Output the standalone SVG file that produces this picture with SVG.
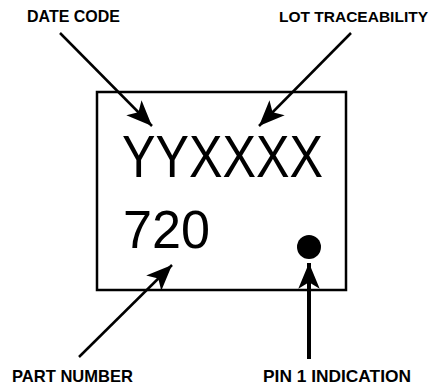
<svg xmlns="http://www.w3.org/2000/svg" width="433" height="388" viewBox="0 0 433 388">
<style>
.lbl{font-family:"Liberation Sans",Arial,sans-serif;font-weight:bold;font-size:17px;fill:#000}
.big{font-family:"Liberation Sans",Arial,sans-serif;font-size:60px;fill:#000}
.ln{stroke:#000;fill:none}
</style>
<defs>
<marker id="ah" markerUnits="userSpaceOnUse" markerWidth="30" markerHeight="30" viewBox="-26 -13 28 26" refX="0" refY="0" orient="auto">
<path d="M0,0 L-24,-10 L-18,0 L-24,10 Z" fill="#000"/>
</marker>
</defs>
<rect width="433" height="388" fill="#fff"/>
<g id="chip">
<rect x="97" y="92" width="249" height="198" fill="#fff" stroke="#000" stroke-width="2.5"/>
<text class="big" x="122" y="177" textLength="201" lengthAdjust="spacingAndGlyphs">YYXXXX</text>
<text class="big" x="123" y="248" style="font-size:54px" textLength="87" lengthAdjust="spacingAndGlyphs">720</text>
<circle cx="309" cy="247" r="12" fill="#000"/>
</g>
<g id="date-code"><text class="lbl" x="27" y="22" textLength="93" lengthAdjust="spacingAndGlyphs">DATE CODE</text></g>
<g id="lot-traceability"><text class="lbl" x="279" y="22" style="font-size:15px" textLength="149" lengthAdjust="spacingAndGlyphs">LOT TRACEABILITY</text></g>
<g id="part-number"><text class="lbl" x="12" y="382" textLength="121" lengthAdjust="spacingAndGlyphs">PART NUMBER</text></g>
<g id="pin1-indication"><text class="lbl" x="263" y="382" textLength="148" lengthAdjust="spacingAndGlyphs">PIN 1 INDICATION</text></g>
<g id="connectors">
<line class="ln" x1="60" y1="33" x2="152" y2="126" stroke-width="2.5" marker-end="url(#ah)"/>
<line class="ln" x1="351" y1="33" x2="259" y2="126" stroke-width="2.5" marker-end="url(#ah)"/>
<line class="ln" x1="79" y1="357" x2="172" y2="265" stroke-width="2.5" marker-end="url(#ah)"/>
<line class="ln" x1="309" y1="359" x2="309" y2="263" stroke-width="4" marker-end="url(#ah)"/>
</g>
</svg>
